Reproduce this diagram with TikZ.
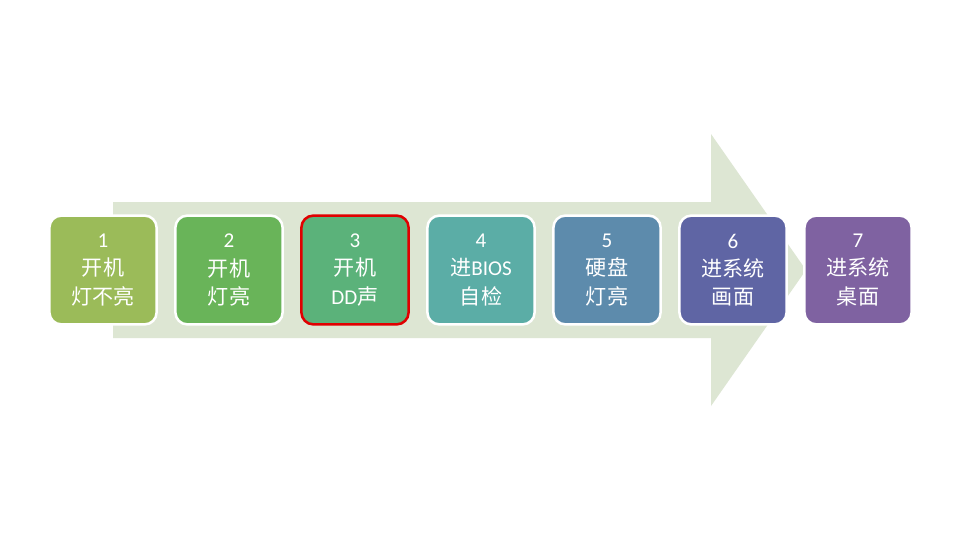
\documentclass[tikz,border=0pt]{standalone}
\usepackage{fontspec}
\setmainfont{Carlito}
\newfontfamily\cjk{Noto Sans CJK SC}
\usepackage{tikz}
\usetikzlibrary{positioning}

\definecolor{arrowbg}{HTML}{DDE6D3}
\definecolor{stepa}{HTML}{9BBB59}
\definecolor{stepb}{HTML}{69B459}
\definecolor{stepc}{HTML}{5BB27A}
\definecolor{stepd}{HTML}{5BADA6}
\definecolor{stepe}{HTML}{5D8BAC}
\definecolor{stepf}{HTML}{5F65A4}
\definecolor{stepg}{HTML}{7F62A1}
\definecolor{markred}{HTML}{E00000}

\begin{document}
\begin{tikzpicture}[
  x=0.025cm, y=-0.025cm,
  stepbox/.style={draw=white, line width=1.8pt, rounded corners=0.3cm,
    minimum width=2.68cm, minimum height=2.72cm, align=center,
    text=white, font=\fontsize{15}{20}\selectfont, inner sep=0pt}
]
  % Page
  \useasboundingbox[fill=white] (0,0) rectangle (960,540);

  % Big background arrow
  \fill[arrowbg] (113,202) -- (711,202) -- (711,134) -- (806,270)
    -- (711,406) -- (711,338) -- (113,338) -- cycle;

  % Steps
  \node[stepbox, fill=stepa] (s1) at (103,270) {1\\{\cjk 开机}\\{\cjk 灯不亮}};
  \node[stepbox, fill=stepb] (s2) at (229,270) {2\\{\cjk 开机}\\{\cjk 灯亮}};
  \node[stepbox, fill=stepc, draw=markred] (s3) at (355,270) {3\\{\cjk 开机}\\DD{\cjk 声}};
  \node[stepbox, fill=stepd] (s4) at (481,270) {4\\{\cjk 进}BIOS\\{\cjk 自检}};
  \node[stepbox, fill=stepe] (s5) at (607,270) {5\\{\cjk 硬盘}\\{\cjk 灯亮}};
  \node[stepbox, fill=stepf] (s6) at (733,270) {6\\{\cjk 进系统}\\{\cjk 画面}};
  \node[stepbox, fill=stepg] (s7) at (858,270) {7\\{\cjk 进系统}\\{\cjk 桌面}};

\end{tikzpicture}
\end{document}
